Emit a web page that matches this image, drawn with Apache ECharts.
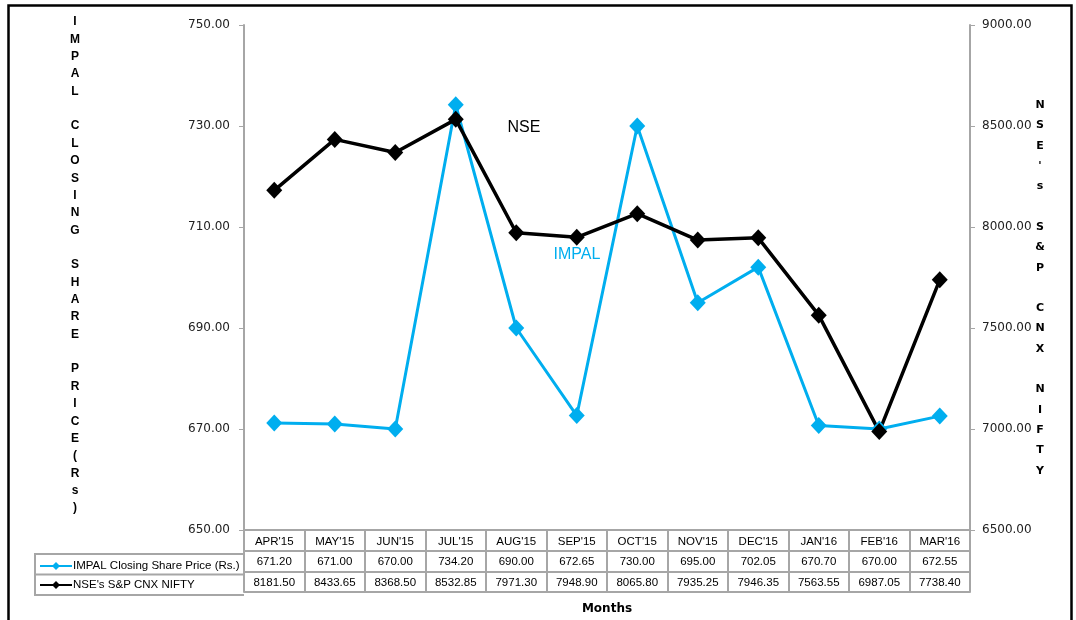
<!DOCTYPE html>
<html>
<head>
<meta charset="utf-8">
<script src="https://cdn.jsdelivr.net/npm/echarts@6/dist/echarts.min.js"></script>
<style>html,body{margin:0;padding:0;background:#fff}#c{width:1076px;height:620px}</style>
</head>
<body>
<div id="c"></div>
<script>
const months = ["APR'15","MAY'15","JUN'15","JUL'15","AUG'15","SEP'15","OCT'15","NOV'15","DEC'15","JAN'16","FEB'16","MAR'16"];
const impal = [671.20, 671.00, 670.00, 734.20, 690.00, 672.65, 730.00, 695.00, 702.05, 670.70, 670.00, 672.55];
const nifty = [8181.50, 8433.65, 8368.50, 8532.85, 7971.30, 7948.90, 8065.80, 7935.25, 7946.35, 7563.55, 6987.05, 7738.40];
const impalName = "IMPAL Closing Share Price (Rs.)";
const niftyName = "NSE's S&P CNX NIFTY";
const leftTitle = "IMPAL CLOSING SHARE PRICE(Rs)";
const rightTitle = "NSE's S&P CNX NIFTY";

const BLUE = '#00AEEF';
const GRAY = '#A6A6A6';
const chart = echarts.init(document.getElementById('c'));

function vert(s){ return s.split('').map(ch => ch === ' ' ? ' ' : ch).join('\n'); }

const labelFont = {fontSize:11.5, color:'#000', fontFamily:'Liberation Sans, Arial'};
function tableAxis(offset, values, extra){
  return Object.assign({
    type:'category', data:months, position:'bottom', offset:offset,
    boundaryGap:true,
    axisLine:{show:true, lineStyle:{color:GRAY, width:2}},
    axisTick:{show:false},
    axisLabel: values ? Object.assign({interval:0, formatter:(v,i)=>values[i].toFixed(2), margin:5}, labelFont) : {show:false}
  }, extra||{});
}

chart.setOption({
  animation:false,
  grid:{left:244, right:106, top:25, bottom:87},
  legend:{
    orient:'vertical', left:34, top:555, itemGap:7, itemWidth:32, itemHeight:10,
    textStyle:Object.assign({padding:[0,0,0,-4]}, labelFont),
    data:[impalName, niftyName]
  },
  xAxis:[
    {
      type:'category', data:months, position:'bottom', boundaryGap:true,
      axisLine:{show:true, lineStyle:{color:GRAY, width:2}},
      axisTick:{show:true, interval:0, alignWithLabel:false, length:62, lineStyle:{color:GRAY, width:2}},
      axisLabel:Object.assign({interval:0, margin:6}, labelFont)
    },
    tableAxis(21, impal),
    tableAxis(41.5, nifty),
    tableAxis(62, null, {name:'Months', nameLocation:'middle', nameGap:11,
      nameTextStyle:{fontWeight:'bold', fontSize:12, color:'#000', fontFamily:'DejaVu Sans'}})
  ],
  yAxis:[
    {
      type:'value', min:650, max:750, interval:20, position:'left',
      axisLine:{show:true, lineStyle:{color:GRAY, width:2}},
      axisTick:{show:true, length:5, lineStyle:{color:GRAY, width:1}},
      splitLine:{show:false},
      axisLabel:{formatter:v=>v.toFixed(2), margin:14, fontSize:12, color:'#222', fontFamily:'DejaVu Sans'}
    },
    {
      type:'value', min:6500, max:9000, interval:500, position:'right',
      axisLine:{show:true, lineStyle:{color:GRAY, width:2}},
      axisTick:{show:true, length:5, lineStyle:{color:GRAY, width:1}},
      splitLine:{show:false},
      axisLabel:{formatter:v=>v.toFixed(2), margin:12, fontSize:12, color:'#222', fontFamily:'DejaVu Sans'}
    }
  ],
  series:[
    {
      name:impalName, type:'line', xAxisIndex:0, yAxisIndex:0, data:impal,
      symbol:'diamond', symbolSize:[16,17], showAllSymbol:true,
      lineStyle:{color:BLUE, width:3}, itemStyle:{color:BLUE}
    },
    {
      name:niftyName, type:'line', xAxisIndex:0, yAxisIndex:1, data:nifty,
      symbol:'diamond', symbolSize:[16,17], showAllSymbol:true,
      lineStyle:{color:'#000', width:3.5}, itemStyle:{color:'#000'}
    }
  ],
  graphic:[
    {type:'rect', shape:{x:8.5, y:5.5, width:1063, height:640}, style:{fill:'none', stroke:'#000', lineWidth:2.5}, silent:true},
    {type:'polyline', shape:{points:[[244,554],[35,554],[35,595],[244,595]]}, style:{fill:'none', stroke:GRAY, lineWidth:2}},
    {type:'line', shape:{x1:35, y1:574.5, x2:244, y2:574.5}, style:{stroke:GRAY, lineWidth:2}},
    {type:'text', x:75, y:265, style:{text:vert(leftTitle), font:'bold 12px Liberation Sans, Arial', fill:'#000', textAlign:'center', textVerticalAlign:'middle', lineHeight:17.36}},
    {type:'text', x:1040, y:288, style:{text:vert(rightTitle), font:'bold 11px DejaVu Sans', fill:'#000', textAlign:'center', textVerticalAlign:'middle', lineHeight:20.3}},
    {type:'text', x:524, y:128, style:{text:'NSE', font:'16px Liberation Sans, Arial', fill:'#000', textAlign:'center', textVerticalAlign:'middle'}},
    {type:'text', x:577, y:255, style:{text:'IMPAL', font:'16px Liberation Sans, Arial', fill:BLUE, textAlign:'center', textVerticalAlign:'middle'}}
  ]
});
</script>
</body>
</html>
